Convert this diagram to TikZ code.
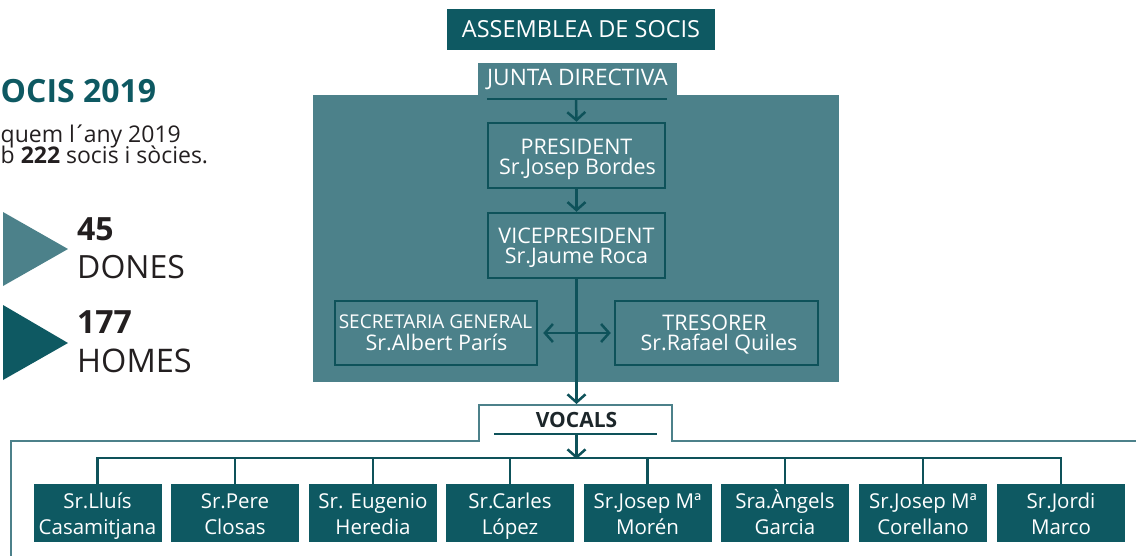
\documentclass[tikz,border=0pt]{standalone}
\usepackage{fontspec}
\setmainfont{Open Sans}
\usetikzlibrary{arrows.meta}
\definecolor{dteal}{RGB}{14,89,98}
\definecolor{lteal}{RGB}{76,129,138}
\definecolor{lnteal}{RGB}{14,82,90}
\definecolor{vtext}{RGB}{28,38,42}
\definecolor{btext}{RGB}{35,31,32}
\begin{document}
\begin{tikzpicture}[x=1pt,y=-1pt,
  conn/.style={draw=lnteal,line width=2.5pt},
  arr/.style={conn,-{Straight Barb[length=8pt,width=18pt]}},
  darr/.style={conn,{Straight Barb[length=8pt,width=18pt]}-{Straight Barb[length=8pt,width=18pt]}},
  obox/.style={draw=lnteal,line width=2.5pt,inner sep=0pt,minimum height=64pt},
  vbox/.style={fill=dteal,inner sep=0pt,minimum width=128pt,minimum height=58pt},
  wt/.style={text=white,inner sep=0pt,anchor=base,font=\fontsize{21.5}{21.5}\selectfont},
  ws/.style={wt,font=\fontsize{19}{19}\selectfont},
  vt/.style={wt,font=\fontsize{20.5}{20.5}\selectfont},
  bt/.style={text=btext,inner sep=0pt},
  frame/.style={draw=lteal,line width=2pt},
]
\useasboundingbox (0,0) rectangle (1136,555);

% left column
\node[anchor=base west,text=dteal,inner sep=0pt,font=\bfseries\fontsize{32}{32}\selectfont] (ttl) at (0.5,102) {OCIS 2019};
\node[bt,anchor=base west,font=\fontsize{23}{23}\selectfont] (l1) at (0.5,142) {quem l\kern-2pt´\kern-2.5pt any 2019};
\node[bt,anchor=base west,font=\fontsize{23}{23}\selectfont] (l2) at (0.5,163) {b \textbf{222} socis i sòcies.};
\fill[lteal] (3,212) -- (68,249) -- (3,286) -- cycle;
\fill[dteal] (3,305) -- (68,343) -- (3,380) -- cycle;
\node[bt,anchor=base west,font=\bfseries\fontsize{32}{32}\selectfont] (n45) at (77,240) {45};
\node[bt,anchor=base west,font=\fontsize{32}{32}\selectfont] (dones) at (77,278) {DONES};
\node[bt,anchor=base west,font=\bfseries\fontsize{32}{32}\selectfont] (n177) at (77,333) {177};
\node[bt,anchor=base west,font=\fontsize{32.5}{32.5}\selectfont] (homes) at (77,372) {HOMES};

% assemblea
\node[fill=dteal,minimum width=268pt,minimum height=41pt,inner sep=0pt] (assem) at (581,29.5) {};
\node[wt,font=\fontsize{23.5}{23.5}\selectfont] (assemt) at (581,37) {ASSEMBLEA DE SOCIS};

% junta panel
\node[fill=lteal,minimum width=526pt,minimum height=287pt,inner sep=0pt] (panel) at (576,238.5) {};
\node[fill=lteal,minimum width=199pt,minimum height=34pt,inner sep=0pt] (tab) at (577.5,80) {};
\node[wt,font=\fontsize{22.7}{22.7}\selectfont] (juntat) at (577.5,85) {JUNTA DIRECTIVA};
\coordinate (jl) at (576,99);
\draw[conn] (487,99) -- (667,99);

\node[obox,minimum width=177pt,minimum height=65pt] (pres) at (576.5,155.5) {};
\node[wt] (prest1) at (576.5,154) {PRESIDENT};
\node[wt] (prest2) at (577.5,174) {Sr.Josep Bordes};

\node[obox,minimum width=177pt,minimum height=65pt] (vice) at (576.5,245.5) {};
\node[wt] (vicet1) at (576.5,243) {VICEPRESIDENT};
\node[wt] (vicet2) at (576.5,263) {Sr.Jaume Roca};

\node[obox,minimum width=202pt] (secr) at (436,333) {};
\node[ws] (secrt1) at (435.5,328) {SECRETARIA GENERAL};
\node[wt] (secrt2) at (436.5,350) {Sr.Albert París};

\node[obox,minimum width=203pt] (treso) at (716.5,333) {};
\node[wt] (tresot1) at (714.5,330) {TRESORER};
\node[wt] (tresot2) at (719,350) {Sr.Rafael Quiles};

\draw[arr] (jl) -- (pres.north);
\draw[arr] (pres.south) -- (vice.north);
\draw[darr] ([xshift=5pt]secr.east) -- ([xshift=-3pt]treso.west);

% vocals
\draw[frame] (11,560) -- (11,441) -- (479,441) -- (479,405) -- (672,405) -- (672,441) -- (1140,441);
\coordinate (vtop) at (576.5,404);
\draw[arr] (vice.south) -- (vtop);
\node[text=vtext,inner sep=0pt,anchor=base,font=\bfseries\fontsize{21}{21}\selectfont] (vocals) at (576.5,427) {VOCALS};
\coordinate (vl) at (576.5,434);
\draw[conn] (494,434) -- (657,434);
\coordinate (bus) at (576.5,459);
\draw[arr] (vl) -- (bus);

\node[vbox] (v1) at (97.5,513) {};
\node[vbox] (v2) at (235,513) {};
\node[vbox] (v3) at (373,513) {};
\node[vbox] (v4) at (510,513) {};
\node[vbox] (v5) at (647.5,513) {};
\node[vbox] (v6) at (785,513) {};
\node[vbox] (v7) at (923,513) {};
\node[vbox] (v8) at (1061,513) {};

\draw[conn] (v1.north) -- ++(0,-26) -| (v8.north);
\foreach \i in {2,...,7} { \draw[conn] (v\i.north) -- ++(0,-26); }

\node[vt] (v1a) at (97.5,508) {Sr.Lluís};
\node[vt] (v1b) at (97.5,534) {Casamitjana};
\node[vt] (v2a) at (235,508) {Sr.Pere};
\node[vt] (v2b) at (235,534) {Closas};
\node[vt] (v3a) at (373,508) {Sr. Eugenio};
\node[vt] (v3b) at (373,534) {Heredia};
\node[vt] (v4a) at (510,508) {Sr.Carles};
\node[vt] (v4b) at (510,534) {López};
\node[vt] (v5a) at (647.5,508) {Sr.Josep Mª};
\node[vt] (v5b) at (647.5,534) {Morén};
\node[vt] (v6a) at (785,508) {Sra.Àngels};
\node[vt] (v6b) at (785,534) {Garcia};
\node[vt] (v7a) at (923,508) {Sr.Josep Mª};
\node[vt] (v7b) at (923,534) {Corellano};
\node[vt] (v8a) at (1061,508) {Sr.Jordi};
\node[vt] (v8b) at (1061,534) {Marco};
\end{tikzpicture}
\end{document}
